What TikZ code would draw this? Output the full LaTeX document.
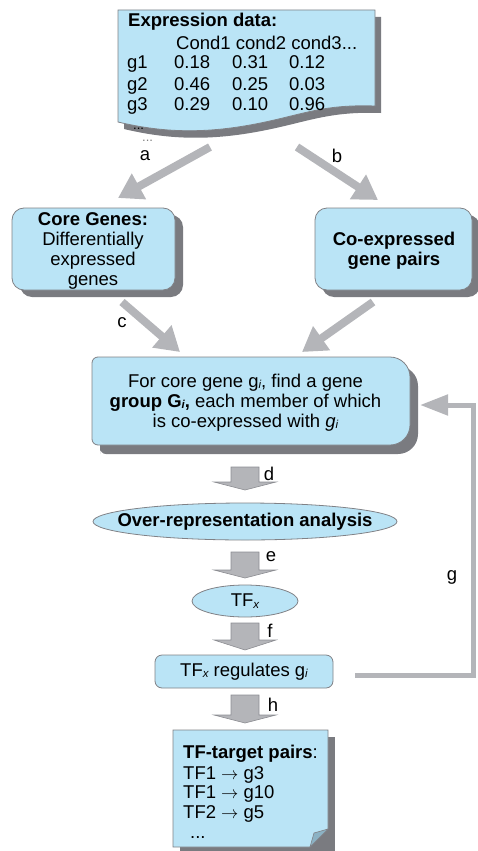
\documentclass[tikz,border=0pt]{standalone}
\usepackage{fontspec}
\setmainfont{Liberation Sans}
\usetikzlibrary{arrows.meta,shapes.geometric,calc}
\definecolor{boxblue}{RGB}{186,228,246}
\definecolor{boxline}{RGB}{128,129,134}
\definecolor{shade}{RGB}{122,123,128}
\definecolor{arrowgray}{RGB}{180,181,185}
\definecolor{arrowedge}{RGB}{140,141,146}
\definecolor{foldblue}{RGB}{140,178,196}
% small italic index (g_i, TF_x)
\newcommand\sbit[1]{\raisebox{-1.5pt}{\fontsize{11.5}{12}\selectfont\itshape #1}}
% downward block arrow: top, start of head, tip (x centre 245)
\newcommand\dnarrow[3]{%
  \filldraw[blockarr] (231,#1) -- (259,#1) -- (259,#2) -- (276,#2) -- (245,#3)
    -- (214,#2) -- (231,#2) -- cycle;}
\begin{document}
\begin{tikzpicture}[x=1pt,y=-1pt,
  font=\fontsize{18.5}{20}\selectfont,
  bluebox/.style={draw=boxline, line width=0.8pt, fill=boxblue},
  shadowbox/.style={fill=shade},
  txt/.style={anchor=base west, inner sep=0pt},
  ctxt/.style={anchor=base, inner sep=0pt},
  lbl/.style={inner sep=0pt},
  fatarrow/.style={draw=arrowgray, line width=8pt,
    -{Triangle[length=24pt,width=28pt]}},
  backarrow/.style={draw=arrowgray, line width=5pt,
    -{Triangle[length=28pt,width=20pt]}},
  blockarr/.style={fill=arrowgray, draw=arrowedge, line width=0.6pt},
  ell/.style={ellipse, bluebox, inner sep=0pt}]
\useasboundingbox (0,0) rectangle (478,851);

% ---------- expression data (document shape) ----------
\fill[shadowbox, shift={(6,7)}] (118,10) -- (375,10) -- (375,106)
  .. controls (320,104) and (300,116) .. (250,125)
  .. controls (200,134) and (160,132) .. (118,122) -- cycle;
\path[bluebox] (118,10) -- (375,10) -- (375,106)
  .. controls (320,104) and (300,116) .. (250,125)
  .. controls (200,134) and (160,132) .. (118,122) -- cycle;
\node[txt, font=\fontsize{18.5}{20}\selectfont\bfseries] (exptitle) at (128,27) {Expression data:};
\node[txt] (conds) at (176,49) {Cond1 cond2 cond3...};
\node[txt] (g1) at (127,69) {g1};
\node[txt] (g1a) at (174,69) {0.18};
\node[txt] (g1b) at (232,69) {0.31};
\node[txt] (g1c) at (289,69) {0.12};
\node[txt] (g2) at (127,90) {g2};
\node[txt] (g2a) at (174,90) {0.46};
\node[txt] (g2b) at (232,90) {0.25};
\node[txt] (g2c) at (289,90) {0.03};
\node[txt] (g3) at (127,110) {g3};
\node[txt] (g3a) at (174,110) {0.29};
\node[txt] (g3b) at (232,110) {0.10};
\node[txt] (g3c) at (289,110) {0.96};
\node[txt, font=\fontsize{13}{14}\selectfont] (dots1) at (133,129) {...};
\node[txt, font=\fontsize{13}{14}\selectfont, text=gray] (dots2) at (142,141) {...};

% ---------- core genes / co-expressed pairs ----------
\fill[shadowbox, rounded corners=12pt] (20,215) rectangle (183,297);
\node[bluebox, rounded corners=12pt, minimum width=163pt, minimum height=82pt,
  inner sep=0pt] (core) at (93.5,249) {};
\node[ctxt, font=\fontsize{18.5}{20}\selectfont\bfseries] (coret) at (93,225) {Core Genes:};
\node[ctxt] (core2) at (93,245) {Differentially};
\node[ctxt] (core3) at (93,265) {expressed};
\node[ctxt] (core4) at (93,285) {genes};

\fill[shadowbox, rounded corners=12pt] (322,215) rectangle (480,297);
\node[bluebox, rounded corners=12pt, minimum width=157pt, minimum height=82pt,
  inner sep=0pt] (coexp) at (393.5,249) {};
\node[ctxt, font=\fontsize{18.5}{20}\selectfont\bfseries] (coexp1) at (394,245) {Co-expressed};
\node[ctxt, font=\fontsize{18.5}{20}\selectfont\bfseries] (coexp2) at (394,265) {gene pairs};

% arrows a, b, c and the pair arrow
\coordinate (aS) at (210,147);  \coordinate (aE) at (118,198);
\coordinate (bS) at (297,147);  \coordinate (bE) at (378,200);
\coordinate (cS) at (122,302);  \coordinate (cE) at (180,352);
\coordinate (pS) at (373,302);  \coordinate (pE) at (302,352);
\draw[fatarrow] (aS) -- (aE);
\draw[fatarrow] (bS) -- (bE);
\draw[fatarrow] (cS) -- (cE);
\draw[fatarrow] (pS) -- (pE);
\node[lbl] (la) at (145,156) {a};
\node[lbl] (lb) at (337,156) {b};
\node[lbl] (lc) at (122,323) {c};

% ---------- gene group box ----------
\fill[shadowbox, shift={(8,9)}] (92,445) -- (92,363)
  arc[start angle=180, end angle=270, radius=6] -- (390,357)
  arc[start angle=-90, end angle=0, radius=20] -- (410,425)
  arc[start angle=0, end angle=90, radius=20] -- (98,445)
  arc[start angle=90, end angle=180, radius=6] -- cycle;
\path[bluebox] (92,439) -- (92,363)
  arc[start angle=180, end angle=270, radius=6] -- (390,357)
  arc[start angle=-90, end angle=0, radius=20] -- (410,425)
  arc[start angle=0, end angle=90, radius=20] -- (98,445)
  arc[start angle=90, end angle=180, radius=6] -- cycle;
\node[ctxt] (grp1) at (245.5,387) {For core gene g\sbit{i}, find a gene};
\node[ctxt] (grp2) at (245.5,407) {\textbf{group G\sbit{i},} each member of which};
\node[ctxt] (grp3) at (245.5,427) {is co-expressed with \textit{g}\sbit{i}};

% ---------- analysis chain ----------
\dnarrow{467}{482}{490}
\node[lbl] (ld) at (269,474) {d};
\node[ell, minimum width=304pt, minimum height=37pt] (ora) at (245,521.5) {};
\node[lbl, font=\fontsize{18.5}{20}\selectfont\bfseries] (orat) at (245,521.5) {Over-representation analysis};

\dnarrow{552}{570}{578}
\node[lbl] (le) at (271,557) {e};
\node[ell, minimum width=106pt, minimum height=32pt] (tfx) at (245,601) {};
\node[lbl] (tfxt) at (245,601) {TF\sbit{x}};

\dnarrow{623}{640}{650}
\node[lbl] (lf) at (270,631) {f};
\node[bluebox, rounded corners=7pt, minimum width=178pt, minimum height=33pt,
  inner sep=0pt] (reg) at (244,671.5) {};
\node[lbl] (regt) at (244,671.5) {TF\sbit{x} regulates g\sbit{i}};

% feedback arrow g
\coordinate (gS) at (355,675);
\coordinate (gC) at (473,675);
\coordinate (gE) at (420,405);
\draw[backarrow] (gS) -- (gC) |- (gE);
\node[lbl] (lg) at (452,577) {g};

\dnarrow{695}{715}{723}
\node[lbl] (lh) at (273,705) {h};

% ---------- TF-target pairs (note with folded corner) ----------
\fill[shadowbox] (180,737) rectangle (335,855);
\path[bluebox] (173,730) -- (328,730) -- (328,829) -- (310,847) -- (173,847) -- cycle;
\filldraw[fill=foldblue, draw=boxline, line width=0.6pt] (328,829) -- (310,847) -- (314,833) -- cycle;
\node[txt] (tft) at (183,758) {\textbf{TF-target pairs}:};
\node[txt] (tf1) at (183,779) {TF1 $\rightarrow$ g3};
\node[txt] (tf2) at (183,798) {TF1 $\rightarrow$ g10};
\node[txt] (tf3) at (183,818) {TF2 $\rightarrow$ g5};
\node[txt] (tf4) at (190,838) {...};
\end{tikzpicture}
\end{document}
